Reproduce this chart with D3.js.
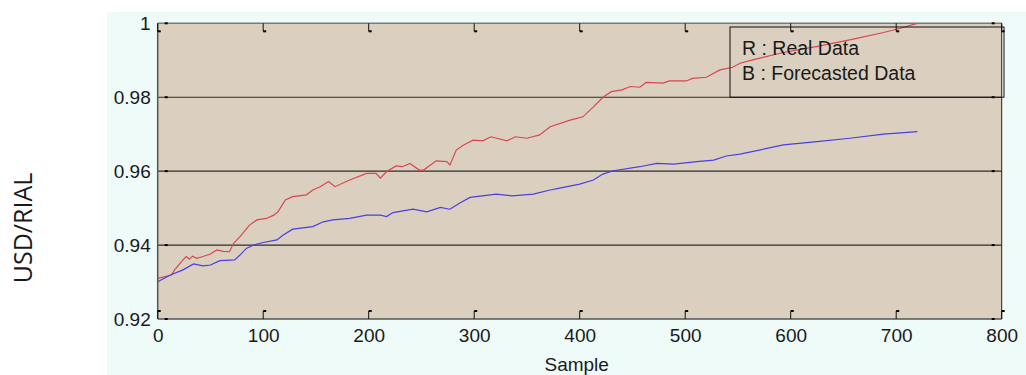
<!DOCTYPE html>
<html lang="en">
<head>
    <meta charset="UTF-8">
    <title>USD/RIAL forecast</title>
    <script src="https://d3js.org/d3.v7.min.js"></script>
    <style>
        body { margin: 0; background: #fff; }
        text { font-family: "Liberation Sans", Arial, sans-serif; fill: #1a1a1a; }
    </style>
</head>
<body>
    <script>
        // Data
        const realSample = [0, 13, 16, 24, 27, 30, 33, 37, 43, 50, 56, 62, 68, 72, 78, 87, 94, 103, 110, 114,
            121, 128, 141, 147, 154, 162, 168, 182, 198, 207, 211, 217, 226, 232, 239, 248, 252, 264, 274, 277,
            283, 290, 299, 308, 316, 331, 339, 350, 362, 372, 391, 403, 413, 422, 430, 440, 448, 457, 463, 479,
            485, 501, 507, 520, 533, 545, 552, 564, 593, 624, 656, 688, 703, 720];
        const realValue = [0.9310, 0.9319, 0.9333, 0.9360, 0.9369, 0.9362, 0.9370, 0.9364, 0.9369, 0.9376,
            0.9387, 0.9383, 0.9382, 0.9405, 0.9423, 0.9454, 0.9468, 0.9472, 0.9481, 0.9490,
            0.9522, 0.9531, 0.9536, 0.9549, 0.9558, 0.9572, 0.9558, 0.9576, 0.9594, 0.9594,
            0.9581, 0.9599, 0.9614, 0.9612, 0.9621, 0.9603, 0.9603, 0.9628, 0.9626, 0.9617,
            0.9657, 0.9671, 0.9684, 0.9682, 0.9693, 0.9682, 0.9693, 0.9689, 0.9698, 0.9720,
            0.9738, 0.9747, 0.9774, 0.9800, 0.9815, 0.9820, 0.9829, 0.9827, 0.9840, 0.9838,
            0.9844, 0.9844, 0.9851, 0.9854, 0.9874, 0.9881, 0.9892, 0.9901, 0.9921, 0.9937,
            0.9955, 0.9975, 0.9986, 1.0000];

        const forecastSample = [0, 12, 24, 34, 43, 50, 59, 73, 78, 84, 91, 100, 113, 119, 128, 147, 157, 166,
            182, 198, 211, 217, 223, 242, 255, 268, 277, 286, 296, 321, 336, 356, 372, 381, 400, 413, 422,
            432, 457, 473, 489, 511, 527, 539, 552, 593, 625, 656, 688, 720];
        const forecastValue = [0.9301, 0.9319, 0.9333, 0.9349, 0.9344, 0.9346, 0.9358, 0.9360, 0.9373, 0.9391,
            0.9400, 0.9407, 0.9414, 0.9427, 0.9443, 0.9450, 0.9463, 0.9468, 0.9472, 0.9481,
            0.9481, 0.9477, 0.9488, 0.9497, 0.9490, 0.9502, 0.9497, 0.9513, 0.9529, 0.9538,
            0.9533, 0.9538, 0.9549, 0.9554, 0.9565, 0.9576, 0.9592, 0.9601, 0.9612, 0.9621,
            0.9619, 0.9626, 0.9630, 0.9641, 0.9646, 0.9671, 0.9680, 0.9689, 0.9700, 0.9707];

        const xTicks = [0, 100, 200, 300, 400, 500, 600, 700, 800];
        const yTicks = [0.92, 0.94, 0.96, 0.98, 1];
        const legendLines = ['R : Real Data', 'B : Forecasted Data'];

        const width = 1026;
        const height = 375;
        const plotL = 157.7, plotR = 1001.7, plotT = 23.3, plotB = 319;

        const svg = d3.select('body')
            .append('svg')
            .attr('width', width)
            .attr('height', height);

        // light panel behind the axes
        svg.append('rect')
            .attr('x', 107).attr('y', 12)
            .attr('width', width - 107).attr('height', height - 12)
            .attr('fill', '#eefbf9');

        const x = d3.scaleLinear().domain([0, 800]).range([plotL, plotR]);
        const y = d3.scaleLinear().domain([0.92, 1]).range([plotB, plotT]);

        // plot background
        svg.append('rect')
            .attr('x', plotL).attr('y', plotT)
            .attr('width', plotR - plotL).attr('height', plotB - plotT)
            .attr('fill', '#dbd0bf');

        // horizontal grid lines
        svg.selectAll('.grid')
            .data(yTicks.slice(1, -1))
            .enter()
            .append('line')
            .attr('x1', plotL).attr('x2', plotR)
            .attr('y1', d => y(d)).attr('y2', d => y(d))
            .attr('stroke', '#2e2e2e')
            .attr('stroke-width', 1.2);

        // lines
        const line = d3.line()
            .x(d => x(d[0]))
            .y(d => y(d[1]));

        svg.append('path')
            .datum(d3.zip(realSample, realValue))
            .attr('d', line)
            .attr('fill', 'none')
            .attr('stroke', '#d9474c')
            .attr('stroke-width', 1.2);

        svg.append('path')
            .datum(d3.zip(forecastSample, forecastValue))
            .attr('d', line)
            .attr('fill', 'none')
            .attr('stroke', '#4a3ee6')
            .attr('stroke-width', 1.2);

        // box
        svg.append('line').attr('x1', plotL).attr('x2', plotR).attr('y1', plotT).attr('y2', plotT)
            .attr('stroke', '#7a7a7a').attr('stroke-width', 1.5);
        svg.append('line').attr('x1', plotL).attr('x2', plotR).attr('y1', plotB).attr('y2', plotB)
            .attr('stroke', '#555').attr('stroke-width', 1.5);
        svg.append('line').attr('x1', plotL).attr('x2', plotL).attr('y1', plotT).attr('y2', plotB)
            .attr('stroke', '#555').attr('stroke-width', 1.5);
        svg.append('line').attr('x1', plotR).attr('x2', plotR).attr('y1', plotT).attr('y2', plotB)
            .attr('stroke', '#222').attr('stroke-width', 1);

        // inner tick marks (x)
        const tickG = svg.append('g');
        xTicks.forEach(t => {
            const px = x(t);
            tickG.append('line').attr('x1', px).attr('x2', px).attr('y1', plotT).attr('y2', plotT + 8)
                .attr('stroke', '#111').attr('stroke-width', 1);
            tickG.append('rect').attr('x', px).attr('y', plotT + 7).attr('width', 3).attr('height', 2).attr('fill', '#000');
            tickG.append('line').attr('x1', px).attr('x2', px).attr('y1', plotB).attr('y2', plotB - 8)
                .attr('stroke', '#111').attr('stroke-width', 1);
            tickG.append('rect').attr('x', px).attr('y', plotB - 9).attr('width', 3).attr('height', 2).attr('fill', '#000');
        });
        // inner tick marks (y)
        yTicks.forEach(t => {
            const py = y(t);
            tickG.append('rect').attr('x', plotL + 7).attr('y', py - 1).attr('width', 3).attr('height', 2).attr('fill', '#000');
            tickG.append('rect').attr('x', plotR - 10).attr('y', py - 1).attr('width', 3).attr('height', 2).attr('fill', '#000');
        });

        // axis labels via d3 axes
        const xAxis = d3.axisBottom(x).tickValues(xTicks).tickSize(0).tickPadding(10).tickFormat(d3.format('d'));
        svg.append('g')
            .attr('transform', `translate(0,${plotB})`)
            .call(xAxis)
            .call(g => g.select('.domain').remove())
            .selectAll('text')
            .style('font-size', '19px')
            .style('font-family', '"Liberation Sans", Arial, sans-serif')
            .attr('fill', '#1a1a1a');

        const yAxis = d3.axisLeft(y).tickValues(yTicks).tickSize(0).tickPadding(7).tickFormat(d => d === 1 ? '1' : d3.format('.2f')(d));
        svg.append('g')
            .attr('transform', `translate(${plotL},0)`)
            .call(yAxis)
            .call(g => g.select('.domain').remove())
            .selectAll('text')
            .style('font-size', '19px')
            .style('font-family', '"Liberation Sans", Arial, sans-serif')
            .attr('fill', '#1a1a1a');

        // legend box
        svg.append('rect')
            .attr('x', 730).attr('y', 27)
            .attr('width', 274).attr('height', y(0.98) - 27)
            .attr('fill', 'none')
            .attr('stroke', '#111')
            .attr('stroke-width', 1);

        svg.selectAll('.legend')
            .data(legendLines)
            .enter()
            .append('text')
            .attr('x', 742)
            .attr('y', (d, i) => 55 + i * 24.5)
            .style('font-size', '19.5px')
            .text(d => d);

        // axis titles
        svg.append('text')
            .attr('x', (plotL + plotR) / 2 - 3)
            .attr('y', 371)
            .attr('text-anchor', 'middle')
            .style('font-size', '19px')
            .text('Sample');

        svg.append('text')
            .attr('transform', 'translate(32,228) rotate(-90)')
            .attr('text-anchor', 'middle')
            .style('font-family', '"Open Sans", sans-serif')
            .style('font-size', '25px')
            .text('USD/RIAL');
    </script>
</body>
</html>
